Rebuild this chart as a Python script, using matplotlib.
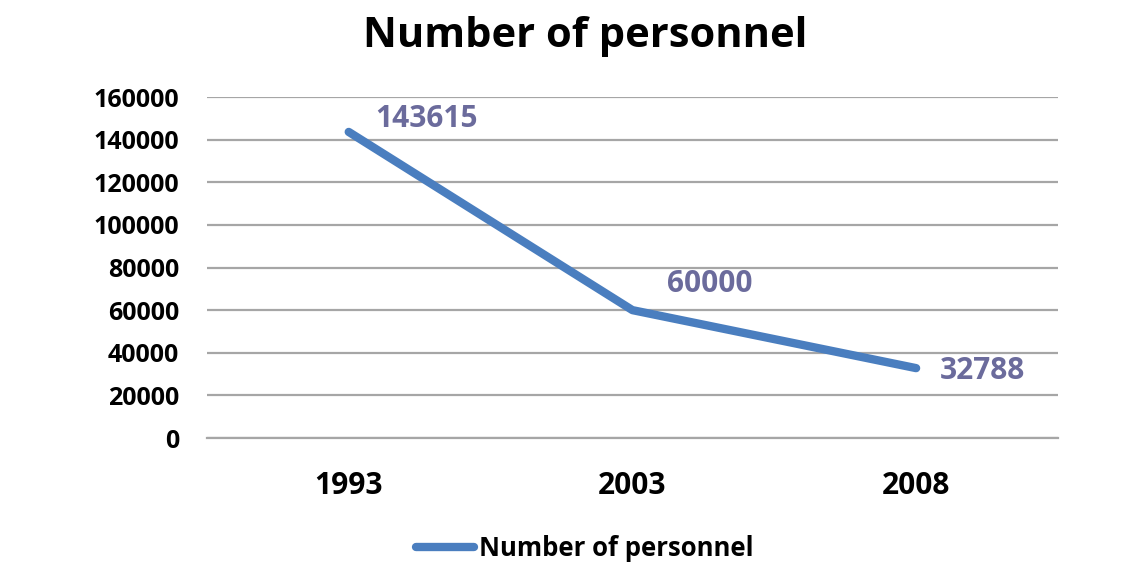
import matplotlib
matplotlib.use("Agg")
import matplotlib.pyplot as plt

years = ["1993", "2003", "2008"]
personnel = [143615, 60000, 32788]
y_ticks = [0, 20000, 40000, 60000, 80000, 100000, 120000, 140000, 160000]
series_name = "Number of personnel"
title = "Number of personnel"

plt.rcParams['font.family'] = ['Open Sans', 'DejaVu Sans']

fig = plt.figure(figsize=(11.43, 5.63), dpi=100)
ax = fig.add_axes([0.181, 0.222, 0.7446, 0.6057])

x = [i + 0.5 for i in range(len(years))]
line_color = "#4a7ebf"
label_color = "#6b6b9c"
ax.plot(x, personnel, color=line_color, lw=6, solid_capstyle='round',
        solid_joinstyle='round', label=series_name, zorder=3)

offsets = [(19, 9), (25, 19), (17, -2)]
for xi, v, off in zip(x, personnel, offsets):
    ax.annotate(str(v), (xi, v), xytext=off, textcoords='offset points',
                ha='left', va='center', color=label_color, fontsize=21.5,
                fontweight='bold')

ax.set_xlim(0, 3)
ax.set_ylim(0, 160000)
ax.set_yticks(y_ticks)
ax.set_yticklabels([str(t) for t in y_ticks], fontsize=18, fontweight='bold')
ax.set_xticks(x)
ax.set_xticklabels(years, fontsize=21.5, fontweight='bold')
ax.tick_params(axis='y', length=0, pad=20)
ax.tick_params(axis='x', length=0, pad=24)
ax.grid(axis='y', color='#a6a6a6', lw=1.6)
ax.set_axisbelow(True)
for s in ['top', 'right', 'left']:
    ax.spines[s].set_visible(False)
ax.spines['bottom'].set_color('#a6a6a6')
ax.spines['bottom'].set_linewidth(1.6)

fig.text(0.512, 0.935, title, fontsize=30, fontweight='bold', ha='center', va='center')

leg = fig.legend(loc='center', bbox_to_anchor=(0.512, 0.025), frameon=False,
                 fontsize=18.5, handlelength=2.25, handletextpad=0.2)
for t in leg.get_texts():
    t.set_fontweight('bold')

fig.savefig("out.png", dpi=100)
